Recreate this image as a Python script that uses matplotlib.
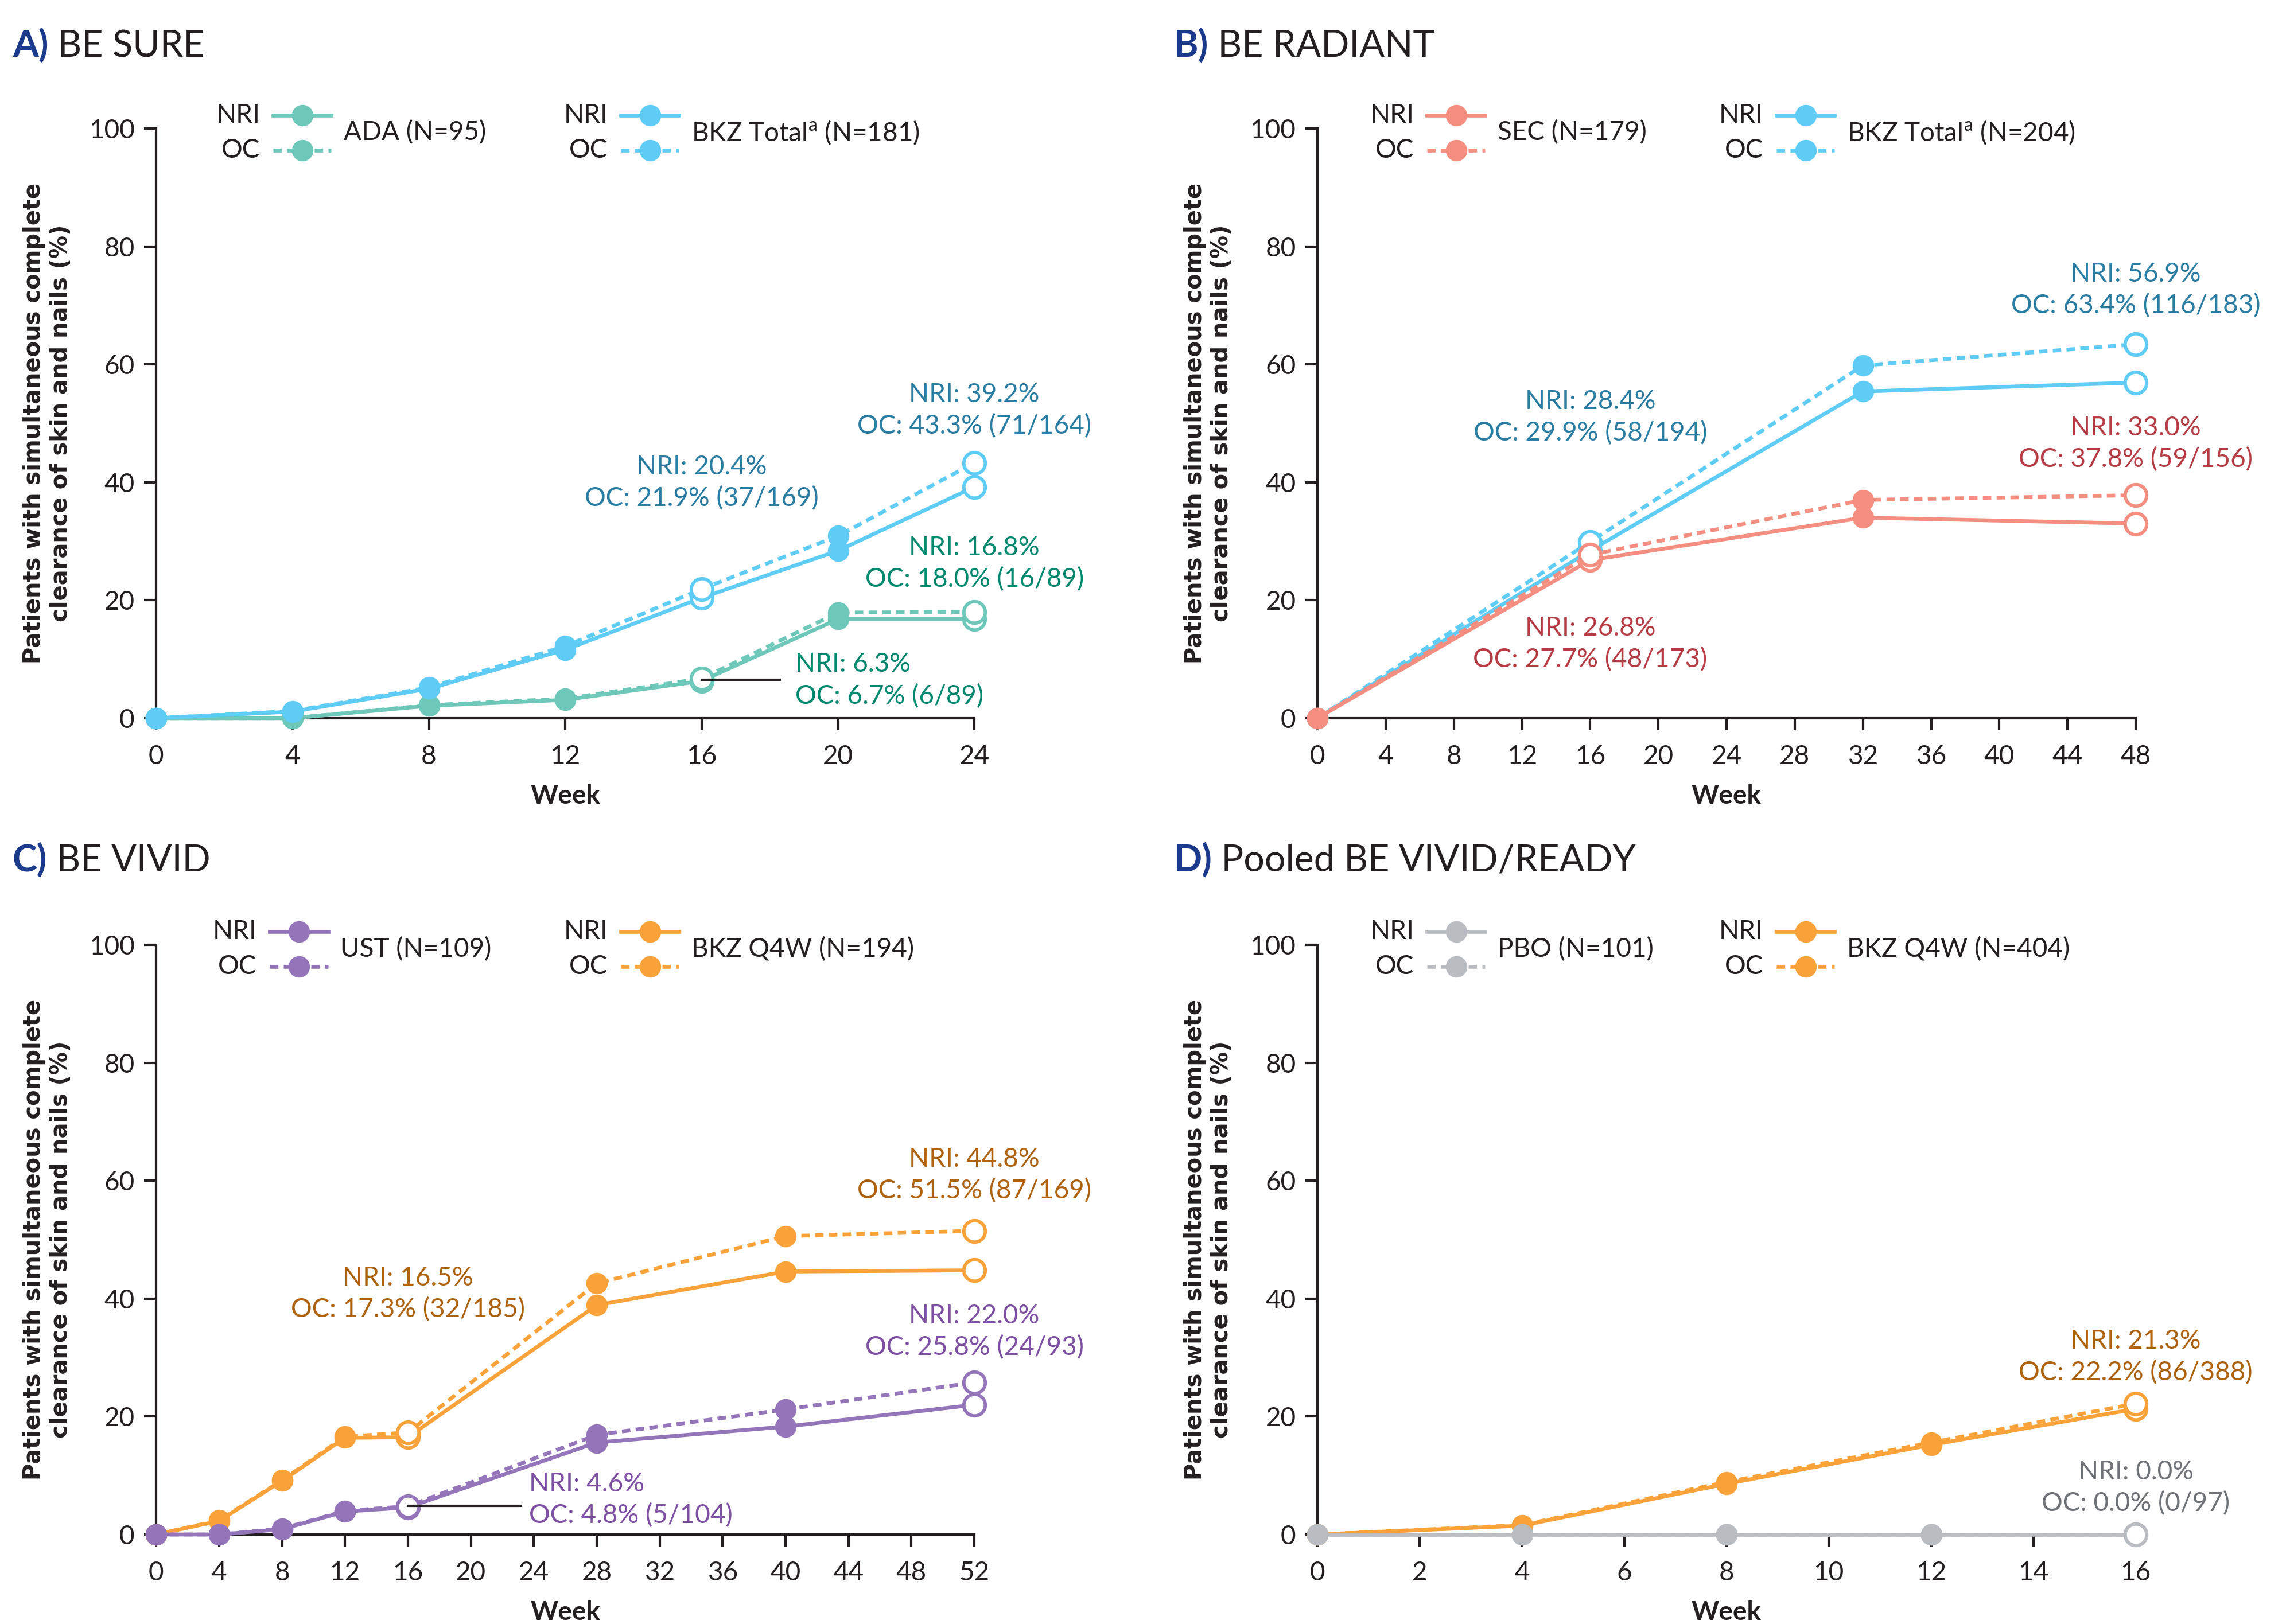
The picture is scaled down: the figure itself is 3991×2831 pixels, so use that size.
import matplotlib
matplotlib.use("Agg")
import matplotlib.pyplot as plt
from matplotlib.lines import Line2D

plt.rcParams['font.family'] = ['Lato', 'DejaVu Sans']
plt.rcParams['mathtext.fontset'] = 'custom'
plt.rcParams['mathtext.rm'] = 'Lato'

# ---------------- data ----------------
weeks_sure = [0, 4, 8, 12, 16, 20, 24]
ada_nri = [0, 0, 2.1, 3.1, 6.3, 16.8, 16.8]
ada_oc = [0, 0, 2.2, 3.3, 6.7, 17.9, 18.0]
bkz_sure_nri = [0, 1.1, 5.0, 11.6, 20.4, 28.4, 39.2]
bkz_sure_oc = [0, 1.2, 5.2, 12.2, 21.9, 30.9, 43.3]

weeks_radiant = [0, 16, 32, 48]
sec_nri = [0, 26.8, 34.0, 33.0]
sec_oc = [0, 27.7, 37.0, 37.8]
bkz_rad_nri = [0, 28.4, 55.4, 56.9]
bkz_rad_oc = [0, 29.9, 59.8, 63.4]

weeks_vivid = [0, 4, 8, 12, 16, 28, 40, 52]
ust_nri = [0, 0, 0.9, 3.9, 4.6, 15.6, 18.3, 22.0]
ust_oc = [0, 0, 1.0, 4.0, 4.8, 16.9, 21.2, 25.8]
bkz_viv_nri = [0, 2.3, 9.1, 16.4, 16.5, 38.9, 44.6, 44.8]
bkz_viv_oc = [0, 2.4, 9.2, 16.6, 17.3, 42.6, 50.6, 51.5]

weeks_pooled = [0, 4, 8, 12, 16]
pbo_nri = [0, 0, 0, 0, 0]
pbo_oc = [0, 0, 0, 0, 0]
bkz_pool_nri = [0, 1.5, 8.6, 15.2, 21.3]
bkz_pool_oc = [0, 1.6, 8.9, 15.6, 22.2]

# open-marker (annotated) weeks per panel
open_sure = [16, 24]
open_radiant = [16, 48]
open_vivid = [16, 52]
open_pooled = [16]

# ---------------- style ----------------
C_ADA, T_ADA = '#6DC8BA', '#00896F'
C_BKZ, T_BKZ = '#5ECCF5', '#2A7DA2'
C_SEC, T_SEC = '#F48E80', '#B53B45'
C_UST, T_UST = '#9575BA', '#7D4FA3'
C_Q4W, T_Q4W = '#F9A23A', '#AE620D'
C_PBO, T_PBO = '#B9BCC1', '#6F7378'
NAVY = '#1B3A8C'
DARK = '#231F20'

LW = 1.6
MS = 9.0
DASH = (0, (2.2, 1.4))
FS = 11
YLABEL = 'Patients with simultaneous complete\nclearance of skin and nails (%)'

fig = plt.figure(figsize=(3991 / 300, 2831 / 300), dpi=300)

positions = {
    'A': [0.0682, 0.5578, 0.3573, 0.3631],
    'B': [0.5753, 0.5578, 0.3573, 0.3631],
    'C': [0.0682, 0.0551, 0.3573, 0.3631],
    'D': [0.5753, 0.0551, 0.3573, 0.3631],
}


def plot_series(ax, weeks, vals, color, ls, open_weeks, z):
    ax.plot(weeks, vals, color=color, ls=ls, lw=LW, clip_on=False, zorder=z)
    fw = [w for w in weeks if w not in open_weeks]
    fv = [v for w, v in zip(weeks, vals) if w not in open_weeks]
    ow = [w for w in weeks if w in open_weeks]
    ov = [v for w, v in zip(weeks, vals) if w in open_weeks]
    ax.plot(fw, fv, ls='none', marker='o', ms=MS, mfc=color, mec=color,
            mew=0, clip_on=False, zorder=z + 0.5)
    ax.plot(ow, ov, ls='none', marker='o', ms=MS, mfc='white', mec=color,
            mew=1.4, clip_on=False, zorder=z + 0.5)


def legend_group(ax, x0, label, color):
    for y, ls, txt in [(1.022, '-', 'NRI'), (0.963, DASH, 'OC')]:
        ax.text(x0, y, txt, transform=ax.transAxes, ha='right', va='center',
                fontsize=FS, color=DARK)
        ax.add_line(Line2D([x0 + 0.016, x0 + 0.087], [y, y], transform=ax.transAxes,
                           color=color, ls=ls, lw=LW, clip_on=False))
        ax.add_line(Line2D([x0 + 0.0515], [y], transform=ax.transAxes, marker='o',
                           ms=MS, mfc=color, mec=color, mew=0, ls='none', clip_on=False))
    ax.text(x0 + 0.102, 0.993, label, transform=ax.transAxes, ha='left',
            va='center', fontsize=FS, color=DARK)


def setup_axes(ax, xmax, xticks, letter, title, tx, ty):
    ax.set_xlim(0, xmax)
    ax.set_ylim(0, 100)
    ax.set_xticks(xticks)
    ax.set_yticks([0, 20, 40, 60, 80, 100])
    for s in ['top', 'right']:
        ax.spines[s].set_visible(False)
    for s in ['left', 'bottom']:
        ax.spines[s].set_linewidth(1.0)
        ax.spines[s].set_color(DARK)
    ax.tick_params(axis='both', direction='out', length=5, width=1.0,
                   labelsize=FS, colors=DARK, pad=4)
    ax.tick_params(axis='x', pad=6)
    ax.set_xlabel('Week', fontsize=FS, fontweight='bold', color=DARK, labelpad=6.5)
    ax.set_ylabel(YLABEL, fontsize=9.6, fontweight='bold', color=DARK,
                  family='DejaVu Sans', labelpad=7, linespacing=1.2)
    t1 = fig.text(tx, ty, letter, fontsize=15.5, fontweight='bold', color=NAVY,
                  ha='left', va='center')
    ax.annotate(' ' + title, xy=(1, 0), xycoords=t1, ha='left', va='bottom',
                fontsize=15.5, color=DARK, annotation_clip=False)


def note(ax, x, y, txt, color, ha='center'):
    ax.text(x, y, txt, ha=ha, va='center', fontsize=FS, color=color,
            linespacing=1.35, clip_on=False, zorder=10)


# ---------------- Panel A ----------------
ax = fig.add_axes(positions['A'])
setup_axes(ax, 24, range(0, 25, 4), 'A)', 'BE SURE', 0.0055, 0.972)
plot_series(ax, weeks_sure, ada_nri, C_ADA, '-', open_sure, 3)
plot_series(ax, weeks_sure, ada_oc, C_ADA, DASH, open_sure, 3)
plot_series(ax, weeks_sure, bkz_sure_nri, C_BKZ, '-', open_sure, 5)
plot_series(ax, weeks_sure, bkz_sure_oc, C_BKZ, DASH, open_sure, 5)
legend_group(ax, 0.127, 'ADA (N=95)', C_ADA)
legend_group(ax, 0.552, r'BKZ Total$^{\mathrm{a}}$ (N=181)', C_BKZ)
note(ax, 24, 52.2, 'NRI: 39.2%\nOC: 43.3% (71/164)', T_BKZ)
note(ax, 16, 39.9, 'NRI: 20.4%\nOC: 21.9% (37/169)', T_BKZ)
note(ax, 24, 26.2, 'NRI: 16.8%\nOC: 18.0% (16/89)', T_ADA)
note(ax, 18.75, 6.4, 'NRI: 6.3%\nOC: 6.7% (6/89)', T_ADA, ha='left')
ax.plot([16, 18.3], [6.5, 6.5], color=DARK, lw=1.0, zorder=9)

# ---------------- Panel B ----------------
ax = fig.add_axes(positions['B'])
setup_axes(ax, 48, range(0, 49, 4), 'B)', 'BE RADIANT', 0.5125, 0.972)
plot_series(ax, weeks_radiant, bkz_rad_nri, C_BKZ, '-', open_radiant, 3)
plot_series(ax, weeks_radiant, bkz_rad_oc, C_BKZ, DASH, open_radiant, 3)
plot_series(ax, weeks_radiant, sec_nri, C_SEC, '-', open_radiant, 5)
plot_series(ax, weeks_radiant, sec_oc, C_SEC, DASH, open_radiant, 5)
legend_group(ax, 0.118, 'SEC (N=179)', C_SEC)
legend_group(ax, 0.545, r'BKZ Total$^{\mathrm{a}}$ (N=204)', C_BKZ)
note(ax, 48, 72.6, 'NRI: 56.9%\nOC: 63.4% (116/183)', T_BKZ)
note(ax, 16, 51.0, 'NRI: 28.4%\nOC: 29.9% (58/194)', T_BKZ)
note(ax, 48, 46.5, 'NRI: 33.0%\nOC: 37.8% (59/156)', T_SEC)
note(ax, 16, 12.6, 'NRI: 26.8%\nOC: 27.7% (48/173)', T_SEC)

# ---------------- Panel C ----------------
ax = fig.add_axes(positions['C'])
setup_axes(ax, 52, range(0, 53, 4), 'C)', 'BE VIVID', 0.0055, 0.4705)
plot_series(ax, weeks_vivid, bkz_viv_nri, C_Q4W, '-', open_vivid, 3)
plot_series(ax, weeks_vivid, bkz_viv_oc, C_Q4W, DASH, open_vivid, 3)
plot_series(ax, weeks_vivid, ust_nri, C_UST, '-', open_vivid, 5)
plot_series(ax, weeks_vivid, ust_oc, C_UST, DASH, open_vivid, 5)
legend_group(ax, 0.123, 'UST (N=109)', C_UST)
legend_group(ax, 0.552, 'BKZ Q4W (N=194)', C_Q4W)
note(ax, 52, 60.9, 'NRI: 44.8%\nOC: 51.5% (87/169)', T_Q4W)
note(ax, 16, 40.8, 'NRI: 16.5%\nOC: 17.3% (32/185)', T_Q4W)
note(ax, 52, 34.4, 'NRI: 22.0%\nOC: 25.8% (24/93)', T_UST)
note(ax, 23.7, 5.9, 'NRI: 4.6%\nOC: 4.8% (5/104)', T_UST, ha='left')
ax.plot([16, 23.2], [4.9, 4.9], color=DARK, lw=1.0, zorder=9)

# ---------------- Panel D ----------------
ax = fig.add_axes(positions['D'])
setup_axes(ax, 16, range(0, 17, 2), 'D)', 'Pooled BE VIVID/READY', 0.5125, 0.4705)
plot_series(ax, weeks_pooled, bkz_pool_nri, C_Q4W, '-', open_pooled, 3)
plot_series(ax, weeks_pooled, bkz_pool_oc, C_Q4W, DASH, open_pooled, 3)
plot_series(ax, weeks_pooled, pbo_nri, C_PBO, '-', open_pooled, 5)
plot_series(ax, weeks_pooled, pbo_oc, C_PBO, DASH, open_pooled, 5)
legend_group(ax, 0.118, 'PBO (N=101)', C_PBO)
legend_group(ax, 0.545, 'BKZ Q4W (N=404)', C_Q4W)
note(ax, 16, 30.1, 'NRI: 21.3%\nOC: 22.2% (86/388)', T_Q4W)
note(ax, 16, 7.9, 'NRI: 0.0%\nOC: 0.0% (0/97)', T_PBO)

fig.savefig('out.png', dpi=300)
